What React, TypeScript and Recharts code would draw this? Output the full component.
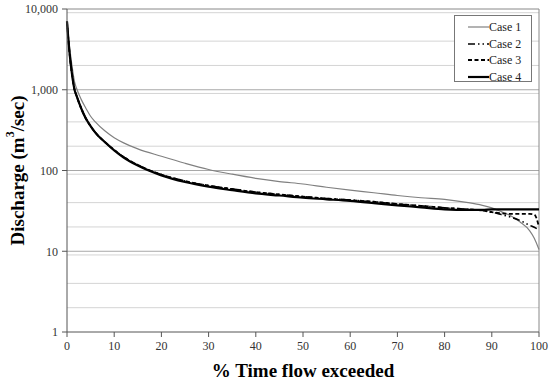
import { LineChart, Line, XAxis, YAxis, CartesianGrid, Legend } from "recharts";

const pct = [0, 0.5, 1, 1.6, 2, 3, 4, 5, 6, 8, 10, 12, 15, 20, 25, 30, 35, 40, 45, 50, 55, 60, 65, 70, 75, 80, 85, 88, 90, 92, 94, 96, 98, 99, 100];

const case1 = [7000, 3600, 2100, 1250, 1050, 760, 590, 470, 400, 310, 255, 220, 185, 150, 123, 103, 90, 80, 73, 68, 62, 57, 53, 49, 46, 44, 40, 37, 34.5, 31, 27.5, 23, 18, 14.5, 10.5];
const case2 = [7000, 3000, 1650, 1000, 850, 590, 440, 355, 295, 226, 180, 147, 117, 89, 74, 65, 59, 54, 50.5, 47.5, 45, 43, 41, 38.5, 36.5, 34.5, 33, 32, 30.5, 28.5, 26.5, 24, 21, 19.8, 18.3];
const case3 = [7000, 3000, 1650, 1000, 850, 590, 440, 355, 295, 226, 180, 147, 117, 89, 74, 65, 59, 54, 50.5, 47.5, 45, 43, 41, 38.5, 36.5, 34.5, 33, 32, 30.5, 29.5, 29, 29, 29, 28.5, 20];
const case4 = [7000, 3000, 1650, 1000, 850, 590, 440, 355, 295, 225, 178, 145, 115, 87, 72, 63, 57, 52, 49, 46, 44, 42, 39.5, 37, 35, 33, 32.5, 32.5, 33, 33, 33, 33, 33, 33, 33];

const xTicks = [0, 10, 20, 30, 40, 50, 60, 70, 80, 90, 100];
const yTicks = [1, 10, 100, 1000, 10000];
const majorLines = [10, 100, 1000];
const minorLines = [1, 10, 100, 1000].flatMap((d) => [2, 3, 4, 5, 6, 7, 8, 9].map((m) => m * d));

const series = [
  { key: "case1", name: "Case 1", color: "#808080", width: 1.2, dash: undefined },
  { key: "case2", name: "Case 2", color: "#000", width: 1.6, dash: "7 3 1.5 3 1.5 3" },
  { key: "case3", name: "Case 3", color: "#000", width: 1.8, dash: "4 2.5" },
  { key: "case4", name: "Case 4", color: "#000", width: 2.2, dash: undefined },
];

const data = pct.map((p, i) => ({
  pct: p,
  case1: case1[i],
  case2: case2[i],
  case3: case3[i],
  case4: case4[i],
}));

const serif = "Liberation Serif, Times New Roman, serif";

const fmt = (v: number) => v.toLocaleString("en-US");

const LegendBox = () => (
  <div
    style={{
      border: "1px solid #777",
      background: "#fff",
      width: 78,
      height: 67,
      boxSizing: "border-box",
      padding: "3px 0 0 13px",
      fontFamily: serif,
      fontSize: 12,
      lineHeight: "16.5px",
      color: "#222",
    }}
  >
    {series.map((s) => (
      <div key={s.key} style={{ display: "flex", alignItems: "center", height: 16.5 }}>
        <svg width={21} height={6} style={{ display: "block" }}>
          <line x1={0} y1={3} x2={21} y2={3} stroke={s.color} strokeWidth={s.width} strokeDasharray={s.dash} />
        </svg>
        <span style={{ fontFamily: serif }}>{s.name}</span>
      </div>
    ))}
  </div>
);

const YLabel = (props: any) => {
  const vb = props.viewBox;
  const cx = vb.x + 17;
  const cy = vb.y + vb.height / 2;
  return (
    <text
      x={cx}
      y={cy}
      transform={`rotate(-90 ${cx} ${cy})`}
      textAnchor="middle"
      dominantBaseline="central"
      style={{ fontFamily: serif, fontWeight: "bold", fontSize: 19 }}
      fill="#000"
    >
      Discharge (m<tspan fontSize={12} dy={-7}>3</tspan><tspan dy={7}>/sec)</tspan>
    </text>
  );
};

const tickStyle = { fontFamily: serif, fontSize: 12, fill: "#333" };

export default function App() {
  return (
    <div style={{ position: "absolute", left: 0, top: 0, width: 550, height: 380, background: "#fff", fontFamily: serif }}>
      <LineChart
        width={550}
        height={380}
        data={data}
        margin={{ top: 9, right: 11, bottom: 0, left: 0 }}
        style={{ fontFamily: serif }}
      >
        <CartesianGrid vertical={false} horizontalValues={minorLines} stroke="#d4d4d4" strokeWidth={1} />
        <CartesianGrid vertical={false} horizontalValues={majorLines} stroke="#a8a8a8" strokeWidth={1} />
        <CartesianGrid vertical={false} horizontalValues={[10000]} stroke="#888" strokeWidth={1} />
        <CartesianGrid horizontal={false} verticalValues={[100]} stroke="#888" strokeWidth={1} />
        <XAxis
          dataKey="pct"
          type="number"
          domain={[0, 100]}
          ticks={xTicks}
          tickSize={5}
          tickMargin={4}
          height={48}
          stroke="#555"
          tick={tickStyle}
          label={{
            value: "% Time flow exceeded",
            position: "insideBottom",
            offset: 3,
            style: { fontFamily: serif, fontWeight: "bold", fontSize: 19, fill: "#000" },
          }}
        />
        <YAxis
          scale="log"
          domain={[1, 10000]}
          ticks={yTicks}
          allowDataOverflow
          width={67}
          tickSize={5}
          tickMargin={4}
          stroke="#555"
          tickFormatter={fmt}
          tick={tickStyle}
          label={<YLabel />}
        />
        <Legend
          layout="horizontal"
          verticalAlign="middle"
          align="center"
          content={() => <LegendBox />}
          wrapperStyle={{ position: "absolute", left: 454, top: 15, width: 78, height: 67 }}
        />
        {series.map((s) => (
          <Line
            key={s.key}
            dataKey={s.key}
            name={s.name}
            type="monotone"
            stroke={s.color}
            strokeWidth={s.width}
            strokeDasharray={s.dash}
            dot={false}
            activeDot={false}
            isAnimationActive={false}
          />
        ))}
      </LineChart>
    </div>
  );
}
